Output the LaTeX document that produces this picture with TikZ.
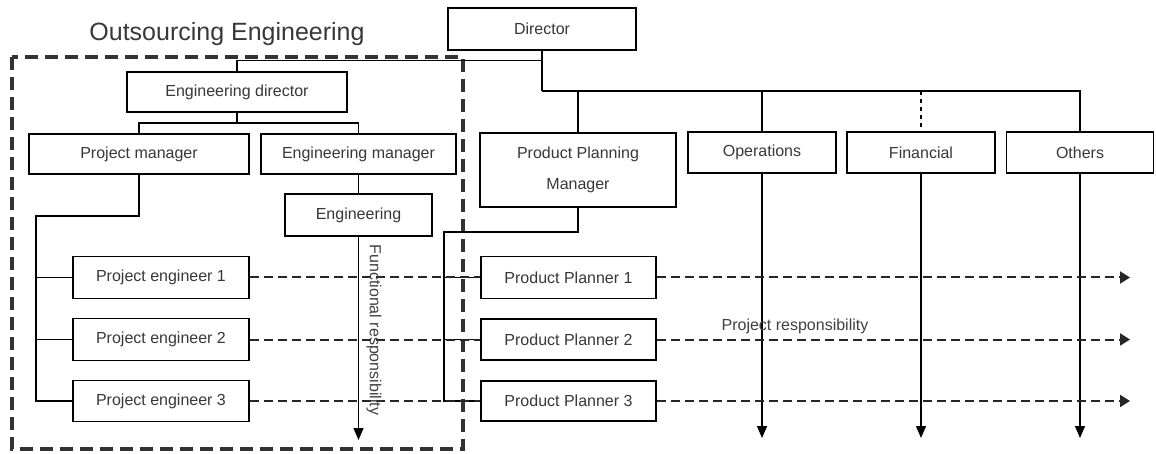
\documentclass[tikz,border=0pt]{standalone}
\usepackage{fontspec}
\setmainfont{Liberation Sans}
\usetikzlibrary{arrows.meta}
\begin{document}
\begin{tikzpicture}[x=1pt,y=-1pt,
  box/.style={draw=black, line width=1.5pt, fill=white, inner sep=0pt,
    font=\fontsize{16}{20}\selectfont, text=black!78},
  link/.style={draw=black, line width=1.4pt},
  downarrow/.style={link, -{Triangle[length=12pt,width=10pt]}},
  projline/.style={draw=black!85, line width=2pt, dash pattern=on 9pt off 5pt},
  projarrow/.style={projline, -{Triangle[length=10pt,width=12pt]}},
  outline/.style={draw=black!80, line width=3.2pt, dash pattern=on 13pt off 7pt},
  label/.style={inner sep=0pt, text=black!75, font=\fontsize{16}{20}\selectfont}
]
\useasboundingbox (0,0) rectangle (1156,454);

% outsourced part of the organisation
\draw[outline] (12,57) rectangle (463,449);
\node[inner sep=0pt, text=black!78, font=\fontsize{25}{30}\selectfont] (title) at (227,34) {Outsourcing Engineering};

% top level
\node[box, minimum width=188pt, minimum height=42pt] (dir) at (542,29) {Director};

% engineering branch
\node[box, minimum width=220pt, minimum height=40pt] (ed) at (237,92) {Engineering director};
\node[box, minimum width=220pt, minimum height=40pt] (pm) at (139,154) {Project manager};
\node[box, minimum width=195pt, minimum height=40pt] (em) at (358.5,154) {Engineering manager};
\node[box, minimum width=147pt, minimum height=42pt] (eng) at (358.5,215) {Engineering};
\node[box, minimum width=176pt, minimum height=42pt] (pe1) at (161,277.5) {Project engineer 1};
\node[box, minimum width=176pt, minimum height=42pt] (pe2) at (161,339.5) {Project engineer 2};
\node[box, minimum width=176pt, minimum height=41pt] (pe3) at (161,401) {Project engineer 3};

% departments
\node[box, minimum width=196pt, minimum height=74pt, align=center,
      font=\fontsize{16}{31}\selectfont] (ppm) at (578,170) {Product Planning\\Manager};
\node[box, minimum width=148pt, minimum height=41pt] (ops) at (762,152.5) {Operations};
\node[box, minimum width=148pt, minimum height=41pt] (fin) at (921,152.5) {Financial};
\node[box, minimum width=147pt, minimum height=41pt] (oth) at (1080,152.5) {Others};

% product planners
\node[box, minimum width=175pt, minimum height=42pt] (pp1) at (568.5,277.5) {Product Planner 1};
\node[box, minimum width=175pt, minimum height=41pt] (pp2) at (568.5,339.5) {Product Planner 2};
\node[box, minimum width=175pt, minimum height=40pt] (pp3) at (568.5,401) {Product Planner 3};

% bus points
\coordinate (dbus) at (542,91);
\coordinate (dleft) at (542,60.5);
\coordinate (edbus) at (237,123);
\coordinate (pmbus) at (36,216);
\coordinate (ppbus) at (444,232);

% director links
\draw[link] (dir.south) -- (dbus);
\draw[link] (dleft) -| (ed.north);
\draw[link] (dbus) -| (oth.north);
\draw[link] (dbus) -| (ppm.north);
\draw[link] (dbus -| ops.north) -- (ops.north);
\draw[draw=black, line width=1.3pt, dash pattern=on 4pt off 4pt] (dbus -| fin.north) -- (fin.north);

% engineering director links
\draw[link] (ed.south) -- (edbus);
\draw[link] (edbus) -| (pm.north);
\draw[link] (edbus) -| (em.north);
\draw[link] (em.south) -- (eng.north);

% project manager links
\draw[link] (pm.south) |- (pmbus) -- (pmbus |- pe3.west) -- (pe3.west);
\draw[link] (pmbus |- pe1.west) -- (pe1.west);
\draw[link] (pmbus |- pe2.west) -- (pe2.west);

% product planning manager links
\draw[link] (ppm.south) |- (ppbus) -- (ppbus |- pp3.west) -- (pp3.west);
\draw[link] (ppbus |- pp1.west) -- (pp1.west);
\draw[link] (ppbus |- pp2.west) -- (pp2.west);

% project engineers to product planners
\draw[projline] (pe1.east) -- (pp1.west);
\draw[projline] (pe2.east) -- (pp2.west);
\draw[projline] (pe3.east) -- (pp3.west);

% functional responsibility
\coordinate (engend) at (358.5,440);
\draw[downarrow] (eng.south) -- (engend);
\node[label, rotate=-90] (func) at (374,330) {Functional responsibility};

\coordinate (opsend) at (762,438);
\coordinate (finend) at (921,438);
\coordinate (othend) at (1080,438);
\draw[downarrow] (ops.south) -- (opsend);
\draw[downarrow] (fin.south) -- (finend);
\draw[downarrow] (oth.south) -- (othend);

% project responsibility
\coordinate (p1end) at (1130,277.5);
\coordinate (p2end) at (1130,339.5);
\coordinate (p3end) at (1130,401);
\draw[projarrow] (pp1.east) -- (p1end);
\draw[projarrow] (pp2.east) -- (p2end);
\draw[projarrow] (pp3.east) -- (p3end);
\node[label] (proj) at (795,326) {Project responsibility};
\end{tikzpicture}
\end{document}
